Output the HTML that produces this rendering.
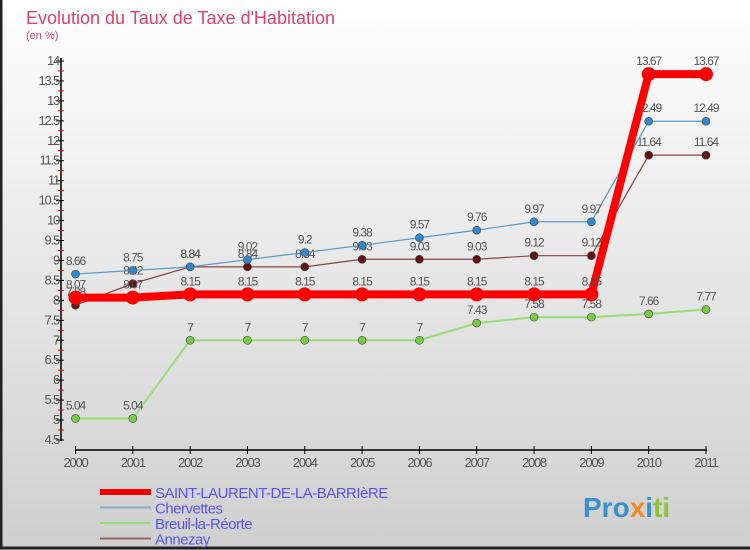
<!DOCTYPE html>
<html><head><meta charset="utf-8"><style>
body{margin:0;width:750px;height:550px;overflow:hidden;font-family:"Liberation Sans",sans-serif}
svg{display:block}
</style></head><body>
<svg id="c" width="750" height="550">
<defs><linearGradient id="bg" x1="0" y1="0" x2="0" y2="1"><stop offset="0" stop-color="#ffffff"/><stop offset="1" stop-color="#cfcfcf"/></linearGradient></defs>
<rect x="0" y="0" width="750" height="550" fill="url(#bg)"/>
<rect x="1" y="-2" width="752" height="550" fill="none" stroke="#222" stroke-width="3"/>
<text x="26" y="24" font-size="18" fill="#e0406a">Evolution du Taux de Taxe d'Habitation</text>
<text x="26" y="39" font-size="11" fill="#e0406a">(en %)</text>
<g id="axes"></g><g id="series"></g><g id="legend"></g>
<text x="583" y="517" font-size="28" font-weight="bold" fill="#3a8fd0">Pro<tspan fill="#f08a20">x</tspan><tspan fill="#3a8fd0">i</tspan><tspan fill="#8cc43c">ti</tspan></text>
</svg>
<script>
const years=["2000","2001","2002","2003","2004","2005","2006","2007","2008","2009","2010","2011"];
const saint=[8.07,8.07,8.15,8.15,8.15,8.15,8.15,8.15,8.15,8.15,13.67,13.67];
const chervettes=[8.66,8.75,8.84,9.02,9.2,9.38,9.57,9.76,9.97,9.97,12.49,12.49];
const breuil=[5.04,5.04,7,7,7,7,7,7.43,7.58,7.58,7.66,7.77];
const annezay=[7.88,8.42,8.84,8.84,8.84,9.03,9.03,9.03,9.12,9.12,11.64,11.64];
const yTicks=[4.5,5,5.5,6,6.5,7,7.5,8,8.5,9,9.5,10,10.5,11,11.5,12,12.5,13,13.5,14];
const NS="http://www.w3.org/2000/svg";
const X=i=>75.5+i*(706-75.5)/11;
const Y=v=>440-(v-4.5)*(440-61)/9.5;
function mk(tag,attrs,parent,txt){const e=document.createElementNS(NS,tag);for(const k in attrs)e.setAttribute(k,attrs[k]);if(txt!==undefined)e.textContent=txt;parent.appendChild(e);return e;}
const ax=document.getElementById('axes');
let l=mk('line',{x1:61,y1:58,x2:61,y2:441,stroke:'#000','stroke-width':1.5},ax);


l=mk('line',{x1:75,y1:450,x2:707,y2:450,stroke:'#000','stroke-width':1.5},ax);


yTicks.forEach(v=>{
 const t=mk('line',{x1:56,y1:Y(v),x2:64,y2:Y(v),stroke:'#000','stroke-width':1},ax);
 
 
 if(v<14){
 const m=mk('line',{x1:58,y1:Y(v)-10,x2:64,y2:Y(v)-10,stroke:'#e00','stroke-width':1},ax);
 
 
 }
 const tx=mk('text',{x:59,y:Y(v)+4,'text-anchor':'end','font-size':13,fill:'#555','letter-spacing':'-1.2'},ax,String(v));
 
 
});
years.forEach((y,i)=>{
 const t=mk('line',{x1:X(i),y1:446,x2:X(i),y2:454,stroke:'#000'},ax);
 
 
 const tx=mk('text',{x:X(i),y:467,'text-anchor':'middle','font-size':13,fill:'#555','letter-spacing':'-1.2'},ax,y);
 
 
});
const sg=document.getElementById('series');
const defs=[
 {d:breuil,c:'#99dd77',f:'#77cc44',w:2,r:4,n:'breuil'},
 {d:annezay,c:'#884444',f:'#661111',w:1.2,r:4,n:'annezay'},
 {d:chervettes,c:'#5599cc',f:'#3388cc',w:1.2,r:4,n:'chervettes'},
 {d:saint,c:'#ff0000',f:'#ff0000',w:8,r:7,n:'saint-laurent'}
];
defs.forEach(s=>{
 const p=mk('polyline',{points:s.d.map((v,i)=>X(i)+','+Y(v)).join(' '),fill:'none',stroke:s.c,'stroke-width':s.w,'stroke-linejoin':'round'},sg);
 
 
 s.d.forEach((v,i)=>{
  const c=mk('circle',{cx:X(i),cy:Y(v),r:s.r,fill:s.f,stroke:'#444','stroke-width':s.r>5?0:0.6},sg);
  
  
  const t=mk('text',{x:X(i),y:Y(v)-9,'text-anchor':'middle','font-size':12,fill:'#555','letter-spacing':'-1'},sg,String(v));
  
  
 });
});
const lg=document.getElementById('legend');
const items=[['SAINT-LAURENT-DE-LA-BARRIèRE','#ee0000',6],['Chervettes','#88aacc',2],['Breuil-la-Réorte','#99dd77',2],['Annezay','#996666',2]];
items.forEach((it,i)=>{
 const y=492+i*15.5;
 const ln=mk('line',{x1:100,y1:y,x2:151,y2:y,stroke:it[1],'stroke-width':it[2]},lg);
 
 
 const t=mk('text',{x:155,y:y+6,'font-size':15,fill:'#5555ee','letter-spacing':'-0.5'},lg,it[0]);
 
 
});
</script>
</body></html>
